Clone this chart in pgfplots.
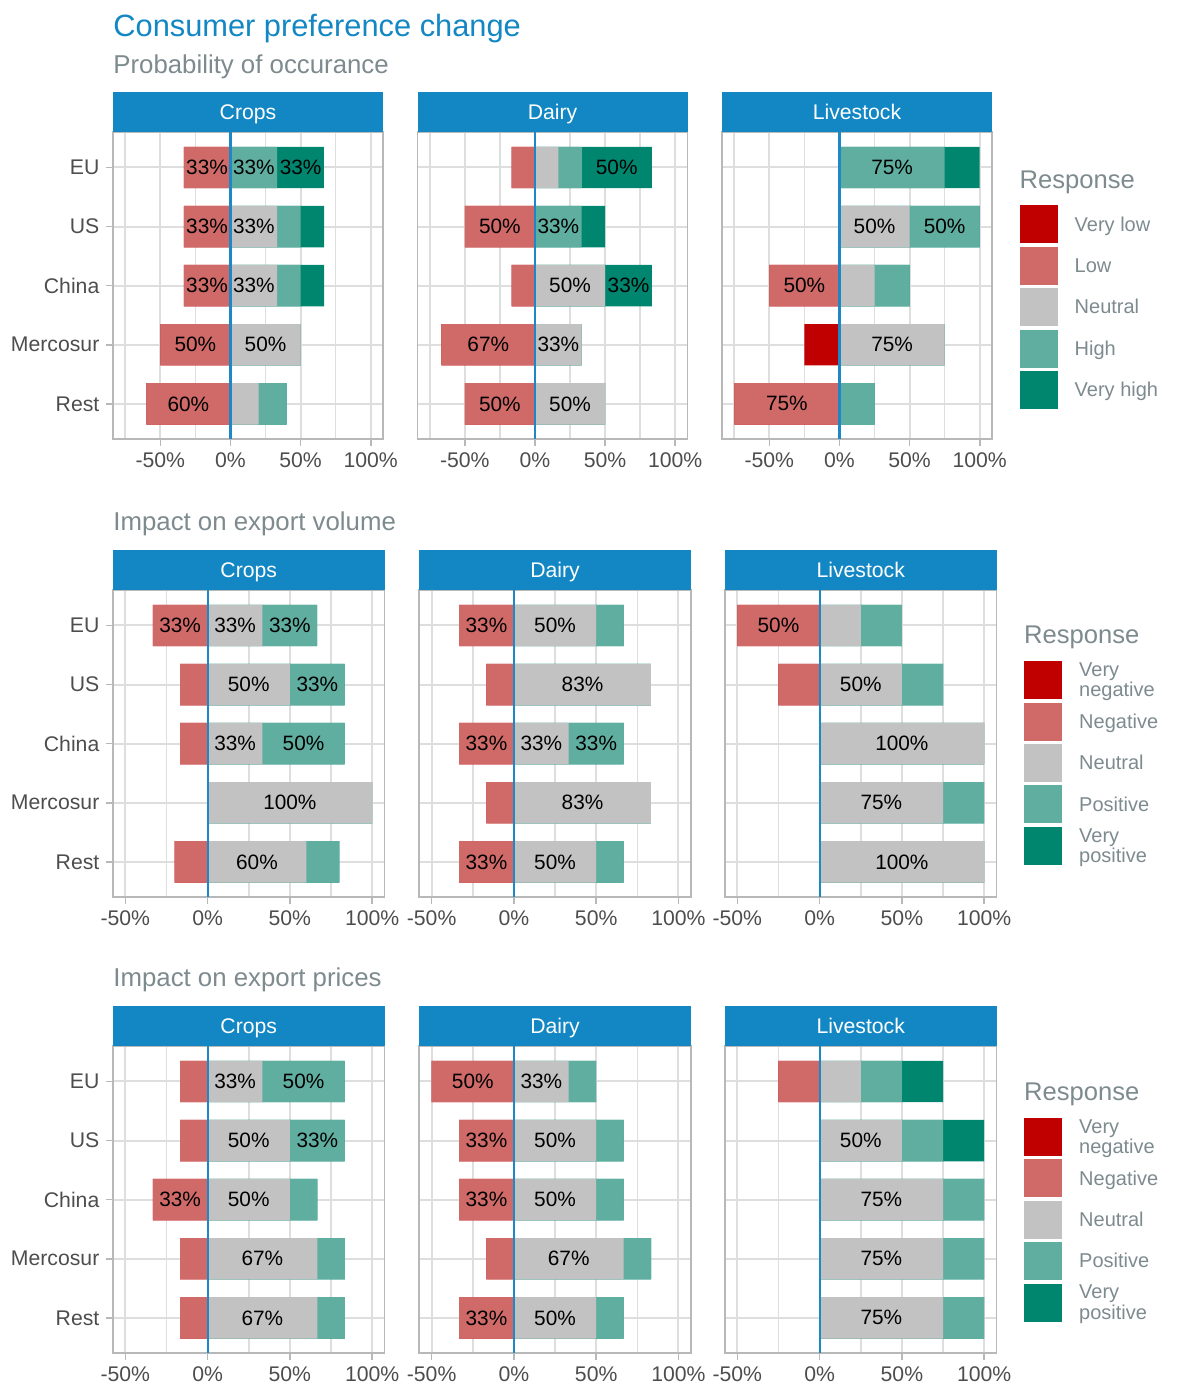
\documentclass[border=0pt]{standalone}
\usepackage{pgfplots}
\usepackage{pgfplotstable}
\pgfplotsset{compat=1.18}
\usepackage{fontspec}
\setmainfont{Liberation Sans}

\definecolor{stripblue}{RGB}{18,135,196}
\definecolor{zeroblue}{RGB}{30,136,198}
\definecolor{subgray}{RGB}{125,138,142}
\definecolor{tickgray}{RGB}{77,77,77}
\definecolor{gridgray}{RGB}{222,222,222}
\definecolor{bordergray}{RGB}{184,184,184}
\definecolor{cvl}{RGB}{192,0,0}
\definecolor{cl}{RGB}{207,106,104}
\definecolor{cn}{RGB}{194,194,194}
\definecolor{ch}{RGB}{95,174,160}
\definecolor{cvh}{RGB}{0,133,110}

% y: 0 = EU, 1 = US, 2 = China, 3 = Mercosur, 4 = Rest (shares in %)
\pgfplotstableread{
y vl l n h vh
0 0 33.3 0 33.3 33.3
1 0 33.3 33.3 16.7 16.7
2 0 33.3 33.3 16.7 16.7
3 0 50 50 0 0
4 0 60 20 20 0
}\tabProbCrops
\pgfplotstableread{
y vl l n h vh
0 0 16.7 16.7 16.7 50
1 0 50 0 33.3 16.7
2 0 16.7 50 0 33.3
3 0 66.7 33.3 0 0
4 0 50 50 0 0
}\tabProbDairy
\pgfplotstableread{
y vl l n h vh
0 0 0 0 75 25
1 0 0 50 50 0
2 0 50 25 25 0
3 25 0 75 0 0
4 0 75 0 25 0
}\tabProbLive
\pgfplotstableread{
y vl l n h vh
0 0 33.3 33.3 33.3 0
1 0 16.7 50 33.3 0
2 0 16.7 33.3 50 0
3 0 0 100 0 0
4 0 20 60 20 0
}\tabVolCrops
\pgfplotstableread{
y vl l n h vh
0 0 33.3 50 16.7 0
1 0 16.7 83.3 0 0
2 0 33.3 33.3 33.3 0
3 0 16.7 83.3 0 0
4 0 33.3 50 16.7 0
}\tabVolDairy
\pgfplotstableread{
y vl l n h vh
0 0 50 25 25 0
1 0 25 50 25 0
2 0 0 100 0 0
3 0 0 75 25 0
4 0 0 100 0 0
}\tabVolLive
\pgfplotstableread{
y vl l n h vh
0 0 16.7 33.3 50 0
1 0 16.7 50 33.3 0
2 0 33.3 50 16.7 0
3 0 16.7 66.7 16.7 0
4 0 16.7 66.7 16.7 0
}\tabPriceCrops
\pgfplotstableread{
y vl l n h vh
0 0 50 33.3 16.7 0
1 0 33.3 50 16.7 0
2 0 33.3 50 16.7 0
3 0 16.7 66.7 16.7 0
4 0 33.3 50 16.7 0
}\tabPriceDairy
\pgfplotstableread{
y vl l n h vh
0 0 25 25 25 25
1 0 0 50 25 25
2 0 0 75 25 0
3 0 0 75 25 0
4 0 0 75 25 0
}\tabPriceLive

\pgfplotsset{
  seg/.style={forget plot, xbar, bar width=0.7, bar shift=0pt,
    fill=#1, draw=none},
  legbox/.style={fill=#1, draw=none,
    legend image code/.code={\fill[##1] (0pt,-9.5pt) rectangle (19pt,9.5pt);}},
  panel/.style={
    scale only axis, height=153.65pt,
    ymin=-0.6, ymax=4.6, y dir=reverse,
    ytick={0,1,2,3,4}, yticklabels={EU,US,China,Mercosur,Rest},
    xtick={-50,0,50,100}, xticklabels={-50\%,0\%,50\%,100\%},
    minor xtick={-75,-25,25,75},
    grid=both,
    major grid style={draw=gridgray, line width=1pt},
    minor grid style={draw=gridgray, line width=0.8pt},
    axis line style={draw=bordergray, line width=0.9pt},
    tick pos=left, tick align=outside,
    major tick length=3.3pt, minor tick length=0pt,
    tick style={draw=bordergray, line width=0.8pt},
    ticklabel style={font=\fontsize{10.6}{12}\selectfont, text=tickgray},
    /pgf/number format/assume math mode=true,
    every axis title/.style={at={(0.5,1)}, anchor=south, fill=stripblue,
      text=white, inner sep=0pt, minimum height=19.75pt,
      text height=9.2pt, text depth=1.7pt,
      font=\fontsize{10.6}{12}\selectfont},
  },
  row1/.style={panel, width=135pt, xmin=-83.75, xmax=108.75,
    every axis title/.append style={minimum width=135pt}},
  row2/.style={panel, width=135.75pt, xmin=-57.5, xmax=107.5,
    every axis title/.append style={minimum width=135.75pt}},
  noy/.style={yticklabels={}, every major y tick/.append style={draw=none}},
  resp/.style={
    legend cell align=left,
    legend style={name=#1, at={(1,1)}, anchor=north west, xshift=13.65pt,
      draw=none, fill=none, inner sep=0pt, row sep=1.7pt,
      font=\fontsize{10}{10}\selectfont, text=subgray,
      /tikz/every odd column/.style={column sep=8.5pt},
      nodes={inner sep=0pt}},
  },
}

% diverging bars: negative side from 0 to -(low), positive side from 0 up,
% longer cumulative bars first so the shorter ones lie on top of them
\newcommand{\bars}[1]{%
  \addplot[seg=cvl] table[y=y, x expr={-\thisrow{vl}-\thisrow{l}}] {#1};
  \addplot[seg=cl] table[y=y, x expr={-\thisrow{l}}] {#1};
  \addplot[seg=cvh] table[y=y, x expr={\thisrow{n}+\thisrow{h}+\thisrow{vh}}] {#1};
  \addplot[seg=ch] table[y=y, x expr={\thisrow{n}+\thisrow{h}}] {#1};
  \addplot[seg=cn] table[y=y, x=n] {#1};
  \draw[zeroblue, line width=1.1pt] (axis cs:0,-0.6) -- (axis cs:0,4.6);
}
\newcommand{\labs}[1]{%
  \addplot[forget plot, draw=none, mark=none,
    nodes near coords, point meta=explicit symbolic,
    nodes near coords align={anchor=center},
    every node near coord/.append style={anchor=center,
      font=\fontsize{10.4}{12}\selectfont, text=black}]
    coordinates {#1};
}
\newcommand{\legtxt}[1]{\raisebox{-4.5pt}{\smash{\begin{tabular}[c]{@{}l@{}}#1\end{tabular}}}}
\newcommand{\legendset}[5]{%
  \addlegendimage{legbox=cvl}\addlegendentry{\legtxt{#1}}
  \addlegendimage{legbox=cl}\addlegendentry{\legtxt{#2}}
  \addlegendimage{legbox=cn}\addlegendentry{\legtxt{#3}}
  \addlegendimage{legbox=ch}\addlegendentry{\legtxt{#4}}
  \addlegendimage{legbox=cvh}\addlegendentry{\legtxt{#5}}
}

\begin{document}
\begin{tikzpicture}
\useasboundingbox (0,0) rectangle (590.5pt,-693.5pt);

\node[anchor=base west, text=stripblue, font=\fontsize{15.4}{18}\selectfont, inner sep=0pt]
  at (56.5pt,-18pt) {Consumer preference change};
\node[anchor=base west, text=subgray, font=\fontsize{12.9}{15}\selectfont, inner sep=0pt]
  at (56.5pt,-36.65pt) {Probability of occurance};
\node[anchor=base west, text=subgray, font=\fontsize{12.9}{15}\selectfont, inner sep=0pt]
  at (56.5pt,-265.15pt) {Impact on export volume};
\node[anchor=base west, text=subgray, font=\fontsize{12.9}{15}\selectfont, inner sep=0pt]
  at (56.5pt,-493.15pt) {Impact on export prices};

% ---- row 1: probability of occurance
\begin{axis}[row1, at={(56.5pt,-219.65pt)}, anchor=south west, title={Crops}]
  \bars{\tabProbCrops}
  \labs{(-16.7,0) [33\%] (16.7,0) [33\%] (50,0) [33\%]
        (-16.7,1) [33\%] (16.7,1) [33\%]
        (-16.7,2) [33\%] (16.7,2) [33\%]
        (-25,3) [50\%] (25,3) [50\%]
        (-30,4) [60\%]}
\end{axis}
\begin{axis}[row1, noy, at={(208.75pt,-219.65pt)}, anchor=south west, title={Dairy}]
  \bars{\tabProbDairy}
  \labs{(58.3,0) [50\%]
        (-25,1) [50\%] (16.7,1) [33\%]
        (25,2) [50\%] (66.7,2) [33\%]
        (-33.3,3) [67\%] (16.7,3) [33\%]
        (-25,4) [50\%] (25,4) [50\%]}
\end{axis}
\begin{axis}[row1, noy, resp=legA, legend style={yshift=-36.5pt},
    at={(361pt,-219.65pt)}, anchor=south west, title={Livestock}]
  \bars{\tabProbLive}
  \labs{(37.5,0) [75\%]
        (25,1) [50\%] (75,1) [50\%]
        (-25,2) [50\%]
        (37.5,3) [75\%]
        (-37.5,4) [75\%]}
  \legendset{Very low}{Low}{Neutral}{High}{Very high}
\end{axis}
\node[anchor=base west, text=subgray, font=\fontsize{12.8}{15}\selectfont, inner sep=0pt]
  at ([yshift=8.5pt]legA.north west) {Response};

% ---- row 2: export volume
\begin{axis}[row2, at={(56.5pt,-448.65pt)}, anchor=south west, title={Crops}]
  \bars{\tabVolCrops}
  \labs{(-16.7,0) [33\%] (16.7,0) [33\%] (50,0) [33\%]
        (25,1) [50\%] (66.7,1) [33\%]
        (16.7,2) [33\%] (58.3,2) [50\%]
        (50,3) [100\%]
        (30,4) [60\%]}
\end{axis}
\begin{axis}[row2, noy, at={(209.65pt,-448.65pt)}, anchor=south west, title={Dairy}]
  \bars{\tabVolDairy}
  \labs{(-16.7,0) [33\%] (25,0) [50\%]
        (41.7,1) [83\%]
        (-16.7,2) [33\%] (16.7,2) [33\%] (50,2) [33\%]
        (41.7,3) [83\%]
        (-16.7,4) [33\%] (25,4) [50\%]}
\end{axis}
\begin{axis}[row2, noy, resp=legB, legend style={yshift=-35.4pt},
    at={(362.5pt,-448.65pt)}, anchor=south west, title={Livestock}]
  \bars{\tabVolLive}
  \labs{(-25,0) [50\%]
        (25,1) [50\%]
        (50,2) [100\%]
        (37.5,3) [75\%]
        (50,4) [100\%]}
  \legendset{Very\\negative}{Negative}{Neutral}{Positive}{Very\\positive}
\end{axis}
\node[anchor=base west, text=subgray, font=\fontsize{12.8}{15}\selectfont, inner sep=0pt]
  at ([yshift=8.8pt]legB.north west) {Response};

% ---- row 3: export prices
\begin{axis}[row2, at={(56.5pt,-676.65pt)}, anchor=south west, title={Crops}]
  \bars{\tabPriceCrops}
  \labs{(16.7,0) [33\%] (58.3,0) [50\%]
        (25,1) [50\%] (66.7,1) [33\%]
        (-16.7,2) [33\%] (25,2) [50\%]
        (33.3,3) [67\%]
        (33.3,4) [67\%]}
\end{axis}
\begin{axis}[row2, noy, at={(209.65pt,-676.65pt)}, anchor=south west, title={Dairy}]
  \bars{\tabPriceDairy}
  \labs{(-25,0) [50\%] (16.7,0) [33\%]
        (-16.7,1) [33\%] (25,1) [50\%]
        (-16.7,2) [33\%] (25,2) [50\%]
        (33.3,3) [67\%]
        (-16.7,4) [33\%] (25,4) [50\%]}
\end{axis}
\begin{axis}[row2, noy, resp=legC, legend style={yshift=-35.8pt},
    at={(362.5pt,-676.65pt)}, anchor=south west, title={Livestock}]
  \bars{\tabPriceLive}
  \labs{(25,1) [50\%]
        (37.5,2) [75\%]
        (37.5,3) [75\%]
        (37.5,4) [75\%]}
  \legendset{Very\\negative}{Negative}{Neutral}{Positive}{Very\\positive}
\end{axis}
\node[anchor=base west, text=subgray, font=\fontsize{12.8}{15}\selectfont, inner sep=0pt]
  at ([yshift=8.8pt]legC.north west) {Response};
\end{tikzpicture}
\end{document}
